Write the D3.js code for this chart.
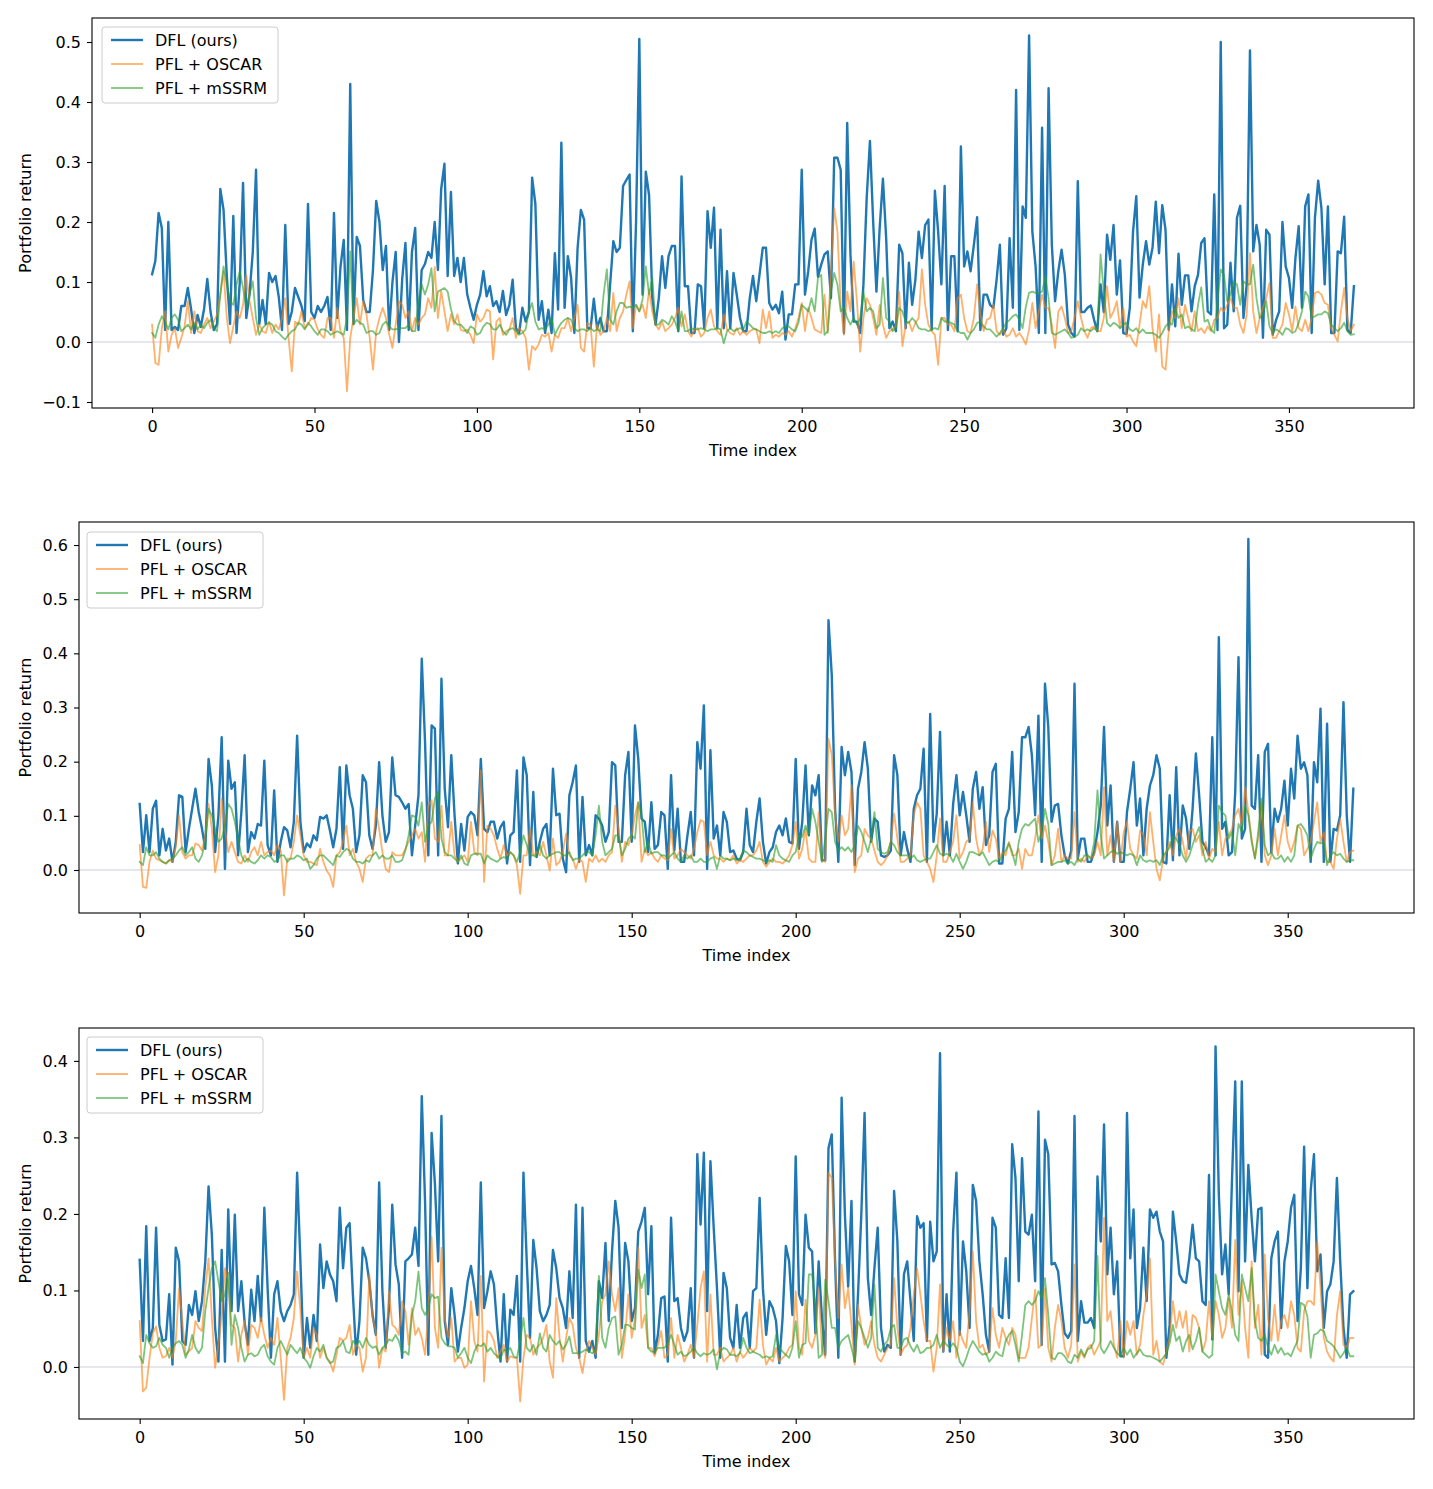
<!DOCTYPE html>
<html><head><meta charset="utf-8">
<script src="https://cdn.jsdelivr.net/npm/d3@7"></script>
<style>body{margin:0;background:#fff}svg{display:block}</style>
</head><body><svg id="c" width="1433" height="1489"></svg>
<script>
const seriesNames = ["DFL (ours)", "PFL + OSCAR", "PFL + mSSRM"];
const xTicks = [0, 50, 100, 150, 200, 250, 300, 350];
const yTicks1 = [-0.1, 0.0, 0.1, 0.2, 0.3, 0.4, 0.5];
const yTicks2 = [0.0, 0.1, 0.2, 0.3, 0.4, 0.5, 0.6];
const yTicks3 = [0.0, 0.1, 0.2, 0.3, 0.4];

// ---------- Panel 1 ----------
const dfl1 = [
.113,.135,.215,.19,.02,.2,.02,.025,.02,.06,
.06,.09,.055,.015,.045,.025,.055,.105,.05,.02,
.03,.255,.22,.11,.03,.21,.015,.1,.265,.04,
.08,.15,.287,.03,.07,.03,.115,.1,.11,.075,
.02,.195,.03,.05,.09,.075,.06,.035,.23,.05,
.04,.06,.05,.06,.075,.02,.215,.04,.125,.17,
.02,.43,.03,.175,.16,.07,.05,.05,.12,.235,
.2,.12,.16,.02,.1,.15,0,.105,.165,.02,
.15,.19,.02,.12,.13,.15,.14,.2,.12,.255,
.297,.11,.25,.11,.14,.1,.14,.08,.057,.037,
.062,.079,.118,.076,.093,.06,.068,.05,.085,.045,
.062,.104,.023,.015,.057,.034,.05,.274,.23,.037,
.068,.015,.054,.015,.148,.054,.332,.057,.143,.107,
.015,.157,.22,.204,.023,.023,.072,.023,.04,.018,
.018,.095,.168,.15,.157,.26,.27,.279,.018,.2,
.505,.079,.284,.245,.073,.029,.073,.143,.09,.143,
.16,.16,.018,.276,.093,.093,.015,.015,.096,.093,
.023,.218,.157,.224,.023,.187,.023,.118,.023,.115,
.079,.04,.018,.018,.073,.11,.068,.112,.157,.157,
.065,.054,.062,.048,.084,.004,.046,.046,.096,.096,
.287,.079,.118,.17,.189,.109,.129,.146,.151,.073,
.307,.307,.287,.015,.365,.146,.034,.034,.015,.096,
.24,.335,.2,.084,.19,.272,.173,.023,.034,.018,
.162,.148,.023,.132,.062,.104,.184,.14,.195,.204,
.02,.252,.184,.096,.26,.02,.143,.143,.018,.326,
.126,.151,.118,.162,.208,.02,.079,.079,.062,.057,
.104,.162,.012,.023,.173,.057,.42,.02,.226,.207,
.511,.184,.126,.015,.357,.015,.423,.162,.068,.118,
.154,.112,.029,.015,.009,.268,.05,.05,.057,.061,
.037,.018,.096,.05,.179,.137,.195,.079,.136,.015,
.013,.057,.184,.243,.074,.129,.168,.129,.157,.234,
.148,.228,.187,.02,.096,.026,.147,.062,.111,.111,
.051,.093,.112,.165,.173,.051,.046,.246,.02,.5,
.023,.029,.132,.051,.207,.227,.04,.096,.486,.151,
.195,.162,.007,.187,.179,.012,.036,.051,.2,.126,
.107,.057,.14,.193,.057,.226,.246,.015,.207,.269,
.223,.096,.226,.015,.015,.151,.148,.209,.02,.015,
.093];
const oscar1 = [
.029,-.035,-.038,.023,.051,-.016,.012,.023,-.01,.007,
.026,.068,.015,.051,.018,.015,.029,.04,.023,.034,
.046,.079,.118,.04,-.002,.026,.051,.04,.062,.112,
.068,.04,.012,.029,.018,.015,.034,.015,.029,.021,
.04,.073,.007,-.049,.034,.029,.051,.023,.029,.04,
.037,.021,.012,.007,.04,.04,.007,.057,.018,.007,
-.082,.007,.04,.073,.029,.068,.046,.007,-.046,.018,
.04,.057,.04,.012,-.01,.029,.068,.062,.04,.051,
.018,.04,.029,.04,.046,.073,.057,.125,.04,.085,
.051,.018,.046,.029,.046,.021,.018,.021,.012,-.002,
.046,.034,.04,.054,.051,-.029,.034,.04,.012,.018,
.021,.04,.007,.023,.018,.007,-.046,-.007,-.013,-.004,
.012,.009,.015,-.016,.012,.007,.023,.023,.04,.018,
.04,.062,-.01,-.016,.032,.029,-.041,.029,.012,.018,
.04,.018,.082,.018,.04,.051,.079,.101,.023,.062,
.051,.062,.04,.087,.051,.029,.021,.034,.018,.023,
.029,.04,.057,.026,.046,.018,.009,.021,.023,.009,
.015,.04,.054,.026,.018,.012,.046,.021,.015,.012,
.023,.012,.018,.012,.018,.021,.021,-.002,.054,.023,
.051,.007,.012,.009,.015,.012,.018,.009,.023,.04,
.065,.018,.057,.04,.021,.018,.015,.079,.015,.118,
.223,.184,.062,.012,.084,.051,.134,.068,-.016,.04,
.073,.062,.04,.012,.062,.029,.007,.018,.021,.026,
.084,-.007,.029,.034,.018,.032,.04,.121,.062,.029,
.018,.012,-.038,.04,.04,.029,.029,.018,.073,.079,
.04,.018,.015,.04,.096,.046,.018,.037,.04,.062,
.018,.012,.021,.009,.012,.023,.009,.015,.007,-.004,
.021,.065,.023,.051,.079,.057,.057,.029,-.01,.051,
.059,.04,.015,.018,.04,.068,.04,.018,.007,.023,
.026,.018,.018,.04,.093,.04,.051,.068,.023,.057,
.009,.012,.001,-.007,.029,.068,.057,.093,.023,-.016,
.046,-.041,-.046,.018,.051,.04,.073,.023,.062,.04,
.018,.051,.018,.023,.015,.026,.018,.037,.04,.057,
.051,.062,.073,.057,.057,.029,.015,.046,.148,.051,
.015,.04,.057,.073,.098,.007,.007,.018,.029,.065,
.046,.018,.059,.023,.018,.037,.018,.04,.082,.084,
.079,.065,.062,.023,.012,.001,.051,.09,.04,.018,
.029];
const mssrm1 = [
.015,.007,.029,.043,.034,.021,.04,.046,.037,.018,
.023,.029,.021,.032,.021,.029,.023,.032,.037,.023,
.018,.079,.126,.096,.068,.062,.096,.118,.09,.057,
.079,.101,.04,.012,.023,.029,.032,.029,.018,.015,
.009,.004,.012,.018,.021,.032,.029,.021,.032,.026,
.018,.012,.021,.021,.018,.012,.015,.018,.015,.012,
.04,.151,.029,.037,.032,.029,.015,.018,.018,.012,
.015,.029,.034,.026,.021,.021,.023,.023,.023,.029,
.018,.018,.068,.096,.079,.096,.123,.051,.084,.087,
.09,.084,.055,.035,.029,.029,.023,.015,.026,.023,
.012,.015,.026,.032,.03,.021,.021,.029,.018,.012,
.021,.023,.018,.012,.015,.021,.051,.065,.034,.021,
.023,.021,.029,.04,.012,.023,.032,.037,.04,.037,
.023,.018,.021,.021,.018,.023,.018,.021,.018,.079,
.121,.037,.029,.051,.065,.065,.057,.059,.057,.062,
.051,.071,.126,.079,.107,.029,.029,.037,.034,.029,
.043,.034,.018,.051,.018,.018,.023,.021,.021,.023,
.021,.018,.021,.021,.023,.021,-.002,.018,.023,.018,
.021,.023,.021,.034,.029,.023,.021,.018,.015,.015,
.018,.015,.018,.015,.023,.026,.026,.021,.018,.032,
.062,.057,.051,.073,.051,.107,.112,.012,.018,.084,
.115,.096,.051,.057,.04,.029,.04,.029,.04,.084,
.051,.057,.051,.023,.029,.107,.04,.034,.018,.023,
.057,.051,.034,.032,.04,.034,.023,.021,.021,.018,
.021,.023,.021,.04,.034,.034,.032,.029,.018,.015,
.015,.004,.015,.021,.032,.034,.026,.021,.021,.015,
.009,.015,.023,.032,.037,.043,.046,.037,.023,.059,
.082,.084,.082,.082,.084,.109,.073,.015,.012,.015,
.018,.021,.015,.007,.009,.012,.023,.018,.021,.018,
.023,.018,.146,.084,.032,.026,.032,.029,.023,.029,
.032,.021,.018,.023,.015,.021,.015,.015,.015,.012,
.007,.015,.026,.032,.029,.057,.04,.046,.023,.026,
.021,.018,.062,.091,.034,.037,.021,.015,.068,.121,
.112,.068,.079,.101,.096,.062,.101,.096,.096,.129,
.073,.04,.046,.068,.026,.015,.021,.018,.012,.023,
.021,.015,.018,.032,.051,.084,.076,.04,.043,.046,
.046,.051,.048,.029,.023,.018,.023,.032,.018,.012,
.013];

// ---------- Panel 2 ----------
const dfl2 = [
.122,.033,.101,.033,.113,.128,.027,.076,.036,.058,
.015,.052,.138,.135,.033,.076,.113,.15,.107,.076,
.039,.205,.156,.033,.1,.245,.002,.202,.15,.162,
.027,.107,.212,.033,.07,.058,.085,.082,.202,.046,
.027,.147,.015,.052,.079,.073,.042,.089,.248,.089,
.033,.049,.042,.064,.055,.098,.095,.101,.073,.042,
.076,.19,.039,.193,.138,.113,.033,.064,.175,.162,
.064,.039,.082,.199,.101,.052,.07,.208,.138,.135,
.125,.113,.122,.027,.082,.138,.39,.236,.027,.267,
.261,.027,.353,.15,.079,.212,.101,.012,.085,.036,
.098,.107,.101,.064,.205,.076,.07,.089,.089,.058,
.079,.089,.012,.064,.07,.184,.015,.208,.175,.009,
.144,.024,.052,.076,.085,.027,.187,.101,.104,.021,
-.004,.138,.162,.193,.015,.135,.027,.046,.027,.101,
.095,.082,.052,.07,.199,.193,.052,.052,.175,.218,
.052,.267,.205,.095,.089,.033,.125,.039,.046,.107,
.101,.002,.175,.036,.113,.015,.015,.064,.107,.027,
.236,.187,.304,.002,.221,.058,.082,.027,.107,.089,
.033,.036,.021,.018,.033,.113,.046,.033,.089,.132,
.052,.012,.033,.042,.07,.082,.064,.095,.052,.049,
.205,.039,.089,.193,.064,.156,.138,.175,.018,.018,
.461,.359,.113,.015,.227,.175,.218,.181,.009,.15,
.181,.236,.187,.052,.095,.089,.027,.024,.027,.036,
.212,.175,.027,.07,.039,.015,.113,.138,.15,.224,
.015,.288,.052,.104,.255,.027,.089,.027,.122,.175,
.101,.144,.101,.052,.15,.181,.113,.153,.046,.064,
.181,.196,.012,.012,.095,.113,.218,.07,.107,.245,
.245,.264,.212,.101,.285,.015,.344,.264,.089,.119,
.122,.064,.027,.012,.036,.344,.021,.058,.058,.015,
.015,.033,.07,.119,.264,.082,.156,.015,.089,.015,
.015,.107,.15,.199,.082,.132,.027,.113,.156,.175,
.212,.187,.015,.012,.138,.018,.19,.027,.119,.095,
.039,.113,.215,.138,.052,.042,.027,.245,.027,.43,
.076,.089,.027,.033,.144,.393,.058,.076,.611,.119,
.113,.212,.015,.218,.233,.033,.113,.089,.113,.165,
.082,.187,.132,.248,.187,.199,.175,.015,.199,.162,
.298,.015,.27,.015,.076,.073,.101,.31,.101,.015,
.15];
const oscar2 = [
.046,-.031,-.033,.015,.036,.021,.018,.015,.012,.018,
.015,.042,.101,.033,.021,.027,.027,.049,.046,.036,
.064,.122,.076,-.004,.027,.132,.076,.033,.052,.033,
.015,.012,.027,.015,.033,.042,.027,.052,.027,.033,
.036,.027,.046,.036,-.047,.021,.021,.052,.101,.064,
.027,.015,.015,.012,.009,.039,.015,-.001,-.01,-.031,
.027,.033,.052,.082,.027,.039,.015,.002,-.022,.021,
.027,.027,.113,.076,.033,.002,-.004,.033,.027,.027,
.027,.039,.052,.064,.076,.058,.07,.015,.119,.129,
.058,.052,.119,.027,.027,.089,.027,.015,.021,.027,
.015,.089,.033,.027,.184,-.022,.082,.076,.064,.039,
.021,.046,.027,.033,.027,.009,-.044,.027,.027,.076,
.027,.033,.027,.052,.027,-.001,.058,.009,.015,.033,
.067,.027,.021,.002,.021,.015,-.022,.021,.015,.027,
.015,.021,.015,.027,.033,.119,.076,.015,.052,.046,
.064,.101,.125,.015,.039,.027,.033,.021,.015,.027,
.021,.018,.076,.021,.027,.039,.033,.027,.021,.039,
.07,.092,.089,.027,.052,.027,.021,.021,.015,.021,
.018,.027,.012,.018,.015,.021,.027,.027,.036,.052,
.015,.006,.015,.021,.015,.015,.012,.018,.027,.046,
.089,.021,.039,.076,.021,.015,.015,.107,.021,.015,
.242,.212,.101,.052,.101,.064,.076,.156,-.004,.021,
.027,.076,.064,.058,.036,.015,.009,.015,.027,.052,
.104,.058,.015,.015,.021,.027,.101,.125,.113,.027,
.015,.002,-.022,.027,.095,.015,.015,.033,.052,.101,
.021,.033,.052,.058,.125,.058,.027,.039,.089,.033,
.073,.058,.021,.033,.027,.052,.027,.027,.039,.002,
.039,.027,.027,.058,.101,.058,.082,.052,.009,.027,
.076,.015,.027,.021,.021,.107,.015,.021,.015,.027,
.021,.027,.052,.027,.153,.027,.064,.015,.089,.015,
.07,.089,.039,.027,.021,.073,.064,.027,.107,.052,
.002,-.019,.021,.033,.052,.027,.064,.076,.052,.021,
.07,.076,.052,.064,.027,.052,.021,.039,.033,.089,
.027,.058,.064,.076,.101,.113,.082,.153,.107,.058,
.021,.058,.125,.027,.009,.027,.076,.027,.064,.101,
.052,.033,.052,.082,.076,.027,.039,.052,.089,.125,
.052,.07,.015,.015,.002,.058,.095,.052,.015,.033,
.036];
const mssrm2 = [
.015,.009,.042,.027,.027,.033,.021,.015,.012,.018,
.021,.027,.036,.042,.027,.033,.042,.021,.015,.027,
.052,.113,.101,.076,.052,.058,.082,.122,.113,.089,
.058,.027,.015,.021,.015,.012,.018,.027,.021,.027,
.024,.015,.018,.027,.027,.015,.021,.021,.027,.024,
.018,.021,.002,.009,.021,.027,.027,.021,.015,.009,
.027,.024,.033,.039,.036,.021,.015,.015,.012,.018,
.015,.027,.033,.021,.027,.021,.021,.027,.015,.015,
.018,.036,.064,.101,.098,.082,.125,.052,.082,.089,
.132,.144,.058,.033,.027,.027,.021,.015,.027,.012,
.009,.027,.03,.03,.03,.012,.027,.021,.018,.015,
.021,.024,.021,.033,.027,.015,.033,.064,.046,.027,
.027,.024,.046,.027,.021,.027,.03,.033,.033,.027,
.027,.033,.018,.021,.021,.027,.033,.033,.027,.064,
.119,.052,.027,.033,.039,.064,.064,.027,.039,.058,
.064,.058,.125,.101,.033,.052,.03,.033,.033,.027,
.027,.021,.027,.033,.021,.015,.027,.021,.027,.015,
.015,.021,.015,.015,.021,.024,.002,.027,.021,.021,
.018,.021,.018,.021,.036,.033,.027,.024,.021,.021,
.018,.015,.018,.015,.046,.027,.021,.018,.015,.027,
.033,.064,.061,.082,.064,.113,.089,.052,.015,.058,
.113,.107,.052,.036,.042,.036,.042,.033,.046,.082,
.07,.052,.033,.058,.107,.039,.033,.03,.033,.052,
.046,.033,.027,.027,.027,.021,.027,.018,.015,.018,
.021,.021,.033,.046,.03,.027,.03,.027,.015,.03,
.015,.002,.015,.033,.033,.03,.027,.033,.021,.009,
.015,.018,.015,.027,.036,.049,.033,.009,.052,.076,
.085,.082,.089,.095,.052,.07,.113,.085,.009,.012,
.015,.015,.018,.012,.015,.009,.021,.015,.027,.027,
.021,.052,.147,.064,.021,.027,.033,.036,.03,.033,
.03,.027,.03,.027,.009,.027,.018,.015,.018,.015,
.018,.009,.027,.033,.042,.061,.058,.046,.027,.015,
.027,.046,.064,.079,.039,.015,.021,.015,.027,.119,
.107,.101,.058,.07,.027,.085,.07,.119,.101,.052,
.021,.07,.132,.046,.027,.033,.021,.021,.027,.015,
.024,.015,.027,.082,.085,.076,.064,.021,.039,.052,
.049,.052,.009,.027,.033,.027,.03,.021,.015,.018,
.018];

// ---------- Panel 3 ----------
const dfl3 = [
.14,.034,.184,.034,.051,.182,.055,.034,.036,.095,
.003,.156,.138,.034,.029,.081,.068,.099,.06,.086,
.138,.236,.173,.051,.007,.153,.007,.206,.073,.199,
.073,.112,.058,.029,.101,.06,.119,.06,.208,.103,
.012,.095,.112,.073,.06,.073,.081,.095,.254,.138,
.012,.064,.025,.068,.034,.16,.103,.138,.121,.112,
.086,.208,.129,.182,.188,.095,.016,.06,.156,.142,
.112,.068,.042,.241,.099,.025,.077,.212,.134,.108,
.012,.138,.142,.147,.182,.132,.354,.217,.016,.306,
.24,.138,.328,.06,.029,.103,.068,.02,.051,.077,
.112,.132,.103,.068,.241,.077,.099,.125,.108,.051,
.007,.095,.007,.075,.068,.119,.007,.254,.138,.038,
.166,.129,.073,.06,.068,.081,.153,.129,.09,.077,
.051,.125,.064,.212,.012,.208,.034,.02,.034,.012,
.112,.09,.162,.06,.151,.217,.182,.051,.162,.138,
.06,.077,.177,.19,.208,.095,.184,.018,.042,.09,
.092,.007,.195,.086,.09,.051,.034,.047,.103,.012,
.278,.186,.28,.073,.269,.182,.103,.012,.123,.103,
.038,.025,.081,.025,.064,.071,.025,.099,.103,.221,
.103,.042,.086,.077,.06,.005,.064,.158,.138,.068,
.275,.095,.081,.199,.156,.151,.044,.138,.064,.016,
.286,.304,.138,.012,.352,.199,.105,.217,.007,.095,
.199,.332,.116,.068,.129,.182,.051,.02,.029,.025,
.23,.164,.016,.121,.138,.086,.034,.197,.182,.188,
.034,.19,.138,.151,.41,.02,.095,.02,.177,.254,
.042,.164,.125,.051,.238,.217,.138,.095,.042,.02,
.195,.182,.068,.064,.142,.064,.291,.247,.112,.273,
.177,.173,.199,.112,.334,.029,.297,.278,.134,.136,
.125,.081,.044,.038,.047,.328,.034,.086,.058,.058,
.064,.051,.249,.164,.317,.121,.182,.095,.138,.014,
.014,.332,.142,.206,.051,.077,.156,.086,.206,.195,
.203,.177,.164,.012,.055,.203,.164,.121,.112,.11,
.142,.186,.142,.138,.086,.081,.251,.036,.419,.225,
.121,.16,.095,.243,.373,.099,.373,.138,.264,.195,
.138,.206,.208,.016,.012,.142,.164,.177,.051,.138,
.164,.208,.225,.06,.129,.288,.103,.23,.278,.125,
.147,.051,.099,.108,.138,.247,.138,.051,.012,.095,
.099];
const oscar3 = [
.06,-.032,-.027,.012,.044,.053,.025,.012,.014,.025,
.012,.034,.103,.06,.016,.02,.025,.06,.051,.047,
.103,.142,.064,-.001,.029,.068,.129,.112,.055,.051,
.007,.042,.06,.016,.055,.051,.038,.064,.042,.025,
.038,.029,.064,.012,-.043,.025,.038,.064,.125,.073,
.012,.025,.012,.051,.042,.012,.025,.012,.007,-.006,
.016,.038,.034,.038,.055,.016,.029,.025,-.006,.012,
.121,.064,.047,-.001,.025,.02,.099,.055,.051,.042,
.086,.073,.029,.077,.042,.051,.038,.016,.073,.17,
.051,.025,.156,.064,.038,.064,.007,.012,.012,-.001,
.003,.086,.034,.02,.119,-.019,.047,.044,.034,.012,
.02,.029,.007,.014,.012,.012,-.045,.012,.042,.038,
.016,.025,.029,.038,.055,.007,-.014,.09,.038,.007,
.038,.064,.055,.025,.012,-.008,.02,.034,.025,.016,
.042,.086,.095,.138,.095,.073,.103,.012,.042,.095,
.038,.064,.156,.051,.068,.025,.025,.014,.029,.047,
.012,.016,.064,.012,.042,.025,.007,.016,.029,.012,
.055,.103,.125,.007,.095,.016,.016,.025,.007,.012,
.016,.025,.007,.02,.012,.018,.025,.02,.025,.088,
.029,.003,.012,.007,.025,.007,.012,.016,.025,.029,
.099,.025,.016,.088,.034,.025,.042,.103,.025,.012,
.254,.247,.138,.064,.134,.077,.103,.055,.003,.081,
.051,.029,.038,.06,.029,.012,.007,.016,.025,.029,
.116,.051,.016,.025,.029,.051,.095,.129,.095,.06,
.034,.034,-.006,.025,.108,.02,.051,.034,.06,.012,
.047,.034,.025,.073,.151,.06,.025,.029,.016,.02,
.077,.042,.025,.051,.038,.029,.051,.042,.012,.012,
.012,.025,.064,.101,.025,.029,.103,.025,.007,.051,
.081,.06,.025,.012,.029,.134,.007,.02,.012,.025,
.029,.016,.025,.034,.195,.06,.073,.029,.012,.06,
.012,.06,.042,.06,.016,.029,.068,.095,.142,.016,
.034,.007,.003,.02,.038,.086,.051,.073,.051,.073,
.02,.068,.064,.051,.02,.034,.086,.038,.086,.068,
.038,.051,.09,.051,.166,.068,.112,.051,.012,.138,
.051,.081,.016,.147,.064,.034,.081,.034,.06,.068,
.051,.086,.068,.025,.02,.073,.086,.086,.081,.164,
.103,.038,.02,.012,.007,.068,.099,.029,.025,.038,
.038];
const mssrm3 = [
.014,.005,.042,.031,.025,.027,.038,.029,.025,.012,
.025,.031,.034,.029,.012,.023,.042,.025,.018,.025,
.073,.103,.129,.138,.112,.086,.095,.123,.029,.068,
.051,.025,.007,.016,.018,.014,.016,.025,.029,.014,
.007,.003,.025,.034,.025,.016,.029,.023,.018,.025,
.012,.007,-.001,.014,.025,.02,.029,.012,.005,.007,
.025,.027,.034,.02,.018,.034,.029,.034,.025,.038,
.029,.025,.027,.016,.025,.029,.036,.034,.042,.034,
.018,.02,.016,.068,.086,.125,.077,.068,.077,.095,
.09,.092,.038,.031,.027,.027,.025,.012,.018,.025,
.012,.005,.02,.029,.027,.031,.02,.025,.018,.014,
.01,.023,.02,.025,.014,.012,.034,.064,.025,.02,
.029,.016,.044,.025,.02,.042,.034,.029,.034,.023,
.029,.04,.018,.018,.018,.02,.023,.02,.018,.023,
.119,.038,.025,.051,.064,.066,.016,.029,.055,.055,
.051,.049,.127,.103,.121,.025,.02,.02,.025,.025,
.025,.031,.042,.029,.016,.02,.014,.016,.02,.025,
.018,.014,.018,.016,.018,.023,-.003,.02,.025,.023,
.016,.016,.014,.018,.038,.025,.018,.02,.018,.016,
.012,.014,.012,.014,.042,.025,.02,.016,.012,.025,
.06,.012,.029,.031,.121,.121,.081,.012,.016,.114,
.086,.051,.051,.025,.034,.038,.042,.025,.007,.06,
.051,.038,.025,.038,.108,.025,.02,.029,.034,.051,
.055,.025,.025,.036,.038,.027,.02,.029,.018,.02,
.025,.025,.029,.042,.025,.034,.029,.025,.031,.025,
.007,.001,.012,.025,.034,.027,.02,.016,.018,.007,
.012,.02,.016,.014,.034,.042,.047,.029,.007,.042,
.081,.086,.081,.086,.099,.09,.116,.068,.012,.01,
.018,.018,.014,.007,.005,.016,.012,.023,.014,.023,
.025,.034,.145,.025,.018,.025,.034,.025,.018,.014,
.025,.016,.023,.012,.018,.023,.016,.014,.014,.012,
.01,.007,.012,.018,.031,.055,.034,.04,.02,.034,
.042,.023,.034,.051,.02,.016,.012,.016,.121,.099,
.077,.068,.095,.073,.042,.034,.121,.103,.086,.129,
.06,.038,.034,.042,.025,.016,.029,.018,.025,.016,
.018,.014,.025,.034,.084,.081,.066,.012,.042,.044,
.049,.047,.034,.031,.027,.02,.012,.018,.025,.014,
.014];

// ---------- Drawing ----------
const FONT = "'DejaVu Sans', sans-serif";
const FS = 16;
const styles = [
  {color: "#1f77b4", width: 2.4, opacity: 1},
  {color: "#ff7f0e", width: 1.8, opacity: 0.62},
  {color: "#2ca02c", width: 1.8, opacity: 0.62}
];
const panels = [
  {id: 1, left: 92, right: 1414, top: 18, bottom: 408, yDomain: [-0.11, 0.54], yTicks: yTicks1, series: [dfl1, oscar1, mssrm1], legend: {x: 102, y: 27}},
  {id: 2, left: 79, right: 1414, top: 522, bottom: 913, yDomain: [-0.0794, 0.6425], yTicks: yTicks2, series: [dfl2, oscar2, mssrm2], legend: {x: 87, y: 532}},
  {id: 3, left: 79, right: 1414, top: 1028, bottom: 1419, yDomain: [-0.068, 0.443], yTicks: yTicks3, series: [dfl3, oscar3, mssrm3], legend: {x: 87, y: 1037}}
];

const svg = d3.select("#c");
svg.append("rect").attr("width", 1433).attr("height", 1489).attr("fill", "#fff");

panels.forEach(p => {
  const x = d3.scaleLinear().domain([-18.5, 388.5]).range([p.left, p.right]);
  const y = d3.scaleLinear().domain(p.yDomain).range([p.bottom, p.top]);
  const g = svg.append("g");
  const clipId = "clip" + p.id;
  g.append("clipPath").attr("id", clipId).append("rect")
    .attr("x", p.left).attr("y", p.top).attr("width", p.right - p.left).attr("height", p.bottom - p.top);

  const plot = g.append("g").attr("clip-path", `url(#${clipId})`);
  plot.append("line")
    .attr("x1", p.left).attr("x2", p.right).attr("y1", y(0)).attr("y2", y(0))
    .attr("stroke", "#c9d2dd").attr("stroke-width", 1.1);

  const line = d3.line().x((d, i) => x(i)).y(d => y(d));
  p.series.forEach((s, k) => {
    plot.append("path").datum(s).attr("d", line)
      .attr("fill", "none").attr("stroke", styles[k].color)
      .attr("stroke-width", styles[k].width).attr("stroke-opacity", styles[k].opacity)
      .attr("stroke-linejoin", "round").attr("stroke-linecap", "square");
  });

  g.append("rect").attr("x", p.left).attr("y", p.top)
    .attr("width", p.right - p.left).attr("height", p.bottom - p.top)
    .attr("fill", "none").attr("stroke", "#000").attr("stroke-width", 1.1);

  const ax = g.append("g").attr("transform", `translate(0,${p.bottom})`)
    .call(d3.axisBottom(x).tickValues(xTicks).tickSize(5).tickPadding(8).tickFormat(d3.format("d")));
  ax.select(".domain").remove();
  const ay = g.append("g").attr("transform", `translate(${p.left},0)`)
    .call(d3.axisLeft(y).tickValues(p.yTicks).tickSize(5).tickPadding(6).tickFormat(d3.format(".1f")));
  ay.select(".domain").remove();
  g.selectAll(".tick text").attr("font-size", FS).attr("font-family", FONT).attr("fill", "#000");
  g.selectAll(".tick line").attr("stroke", "#000").attr("stroke-width", 1.1);

  g.append("text").attr("x", (p.left + p.right) / 2).attr("y", p.bottom + 48)
    .attr("text-anchor", "middle").attr("font-size", FS).attr("font-family", FONT).text("Time index");
  g.append("text").attr("transform", `translate(31,${(p.top + p.bottom) / 2}) rotate(-90)`)
    .attr("text-anchor", "middle").attr("font-size", FS).attr("font-family", FONT).text("Portfolio return");

  const lg = g.append("g").attr("transform", `translate(${p.legend.x},${p.legend.y})`);
  lg.append("rect").attr("x", 0).attr("y", 0).attr("width", 176).attr("height", 76).attr("rx", 3)
    .attr("fill", "#fff").attr("fill-opacity", 0.8).attr("stroke", "#cccccc").attr("stroke-width", 1);
  seriesNames.forEach((name, k) => {
    const yy = 13 + k * 24;
    lg.append("line").attr("x1", 9).attr("x2", 41).attr("y1", yy).attr("y2", yy)
      .attr("stroke", styles[k].color).attr("stroke-width", styles[k].width).attr("stroke-opacity", styles[k].opacity);
    lg.append("text").attr("x", 53).attr("y", yy).attr("dy", "0.36em")
      .attr("font-size", FS).attr("font-family", FONT).text(name);
  });
});
</script>
</body></html>
